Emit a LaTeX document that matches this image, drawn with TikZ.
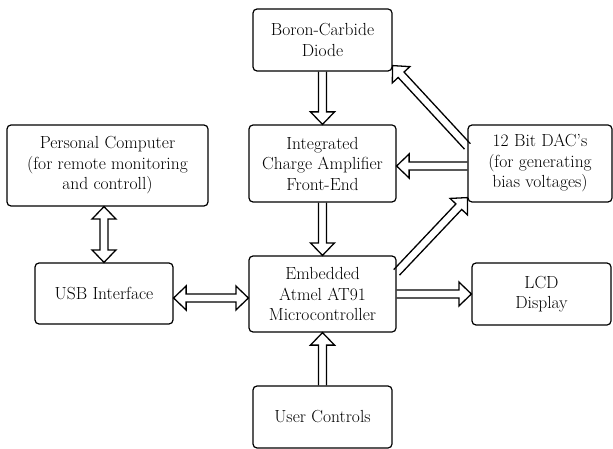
\documentclass[tikz,border=0pt]{standalone}
\usetikzlibrary{calc}
\tikzset{
  box/.style={draw, rounded corners=4pt, line width=1.2pt, align=center, inner sep=0pt,
    font=\fontsize{17.5}{20.5}\selectfont},
  harrow/.style={draw, line width=1.3pt, line join=miter},
}
% #1 tail, #2 tip
\newcommand{\hollowarrow}[2]{%
  \coordinate (ha) at #1; \coordinate (hb) at #2;
  \coordinate (hc) at ($(hb)!12.5pt!(ha)$);
  \draw[harrow] ($(ha)!4pt!90:(hb)$) -- ($(hc)!4pt!90:(hb)$) -- ($(hc)!12pt!90:(hb)$) -- (hb)
    -- ($(hc)!12pt!-90:(hb)$) -- ($(hc)!4pt!-90:(hb)$) -- ($(ha)!4pt!-90:(hb)$);
}
\newcommand{\hollowdarrow}[2]{%
  \coordinate (ha) at #1; \coordinate (hb) at #2;
  \coordinate (hc1) at ($(ha)!12.5pt!(hb)$);
  \coordinate (hc2) at ($(hb)!12.5pt!(ha)$);
  \draw[harrow] (ha) -- ($(hc1)!12pt!90:(hb)$) -- ($(hc1)!4pt!90:(hb)$) -- ($(hc2)!4pt!90:(hb)$)
    -- ($(hc2)!12pt!90:(hb)$) -- (hb) -- ($(hc2)!12pt!-90:(hb)$) -- ($(hc2)!4pt!-90:(hb)$)
    -- ($(hc1)!4pt!-90:(hb)$) -- ($(hc1)!12pt!-90:(hb)$) -- cycle;
}
\begin{document}
\begin{tikzpicture}[x=1pt, y=-1pt]
\useasboundingbox (0,0) rectangle (613,449);
\node[box, minimum width=139pt, minimum height=62pt] (boron) at (322.5,40) {Boron-Carbide\\Diode};
\node[box, minimum width=147pt, minimum height=77pt] (integ) at (322.5,163.5) {Integrated\\Charge Amplifier\\Front-End};
\node[box, minimum width=144pt, minimum height=77pt] (dac) at (540,163.5) {12 Bit DAC's\\(for generating\\bias voltages)};
\node[box, minimum width=201pt, minimum height=81pt] (pc) at (107.5,165.5) {Personal Computer\\(for remote monitoring\\and controll)};
\node[box, minimum width=138pt, minimum height=61pt] (usb) at (104,293.5) {USB Interface};
\node[box, minimum width=147pt, minimum height=76pt] (emb) at (322.5,294) {Embedded\\Atmel AT91\\Microcontroller};
\node[box, minimum width=139pt, minimum height=62pt] (lcd) at (541.5,294) {LCD\\Display};
\node[box, minimum width=139pt, minimum height=62pt] (user) at (322.5,417) {User Controls};

\hollowarrow{(boron.south)}{(integ.north)}
\hollowarrow{(integ.south)}{(emb.north)}
\hollowarrow{(user.north)}{(emb.south)}
\hollowarrow{([yshift=-2.5pt]dac.west)}{([yshift=-2.5pt]integ.east)}
\hollowarrow{(emb.east)}{(emb.east -| lcd.west)}
\hollowarrow{([yshift=-22pt]dac.north west)}{([yshift=6pt]boron.south east)}
\hollowarrow{([yshift=-17pt]emb.north east)}{([yshift=5pt]dac.south west)}
\hollowdarrow{(usb.north |- pc.south)}{(usb.north)}
\hollowdarrow{([yshift=-4.5pt]usb.east)}{([yshift=-4.5pt]usb.east -| emb.west)}
\end{tikzpicture}
\end{document}
